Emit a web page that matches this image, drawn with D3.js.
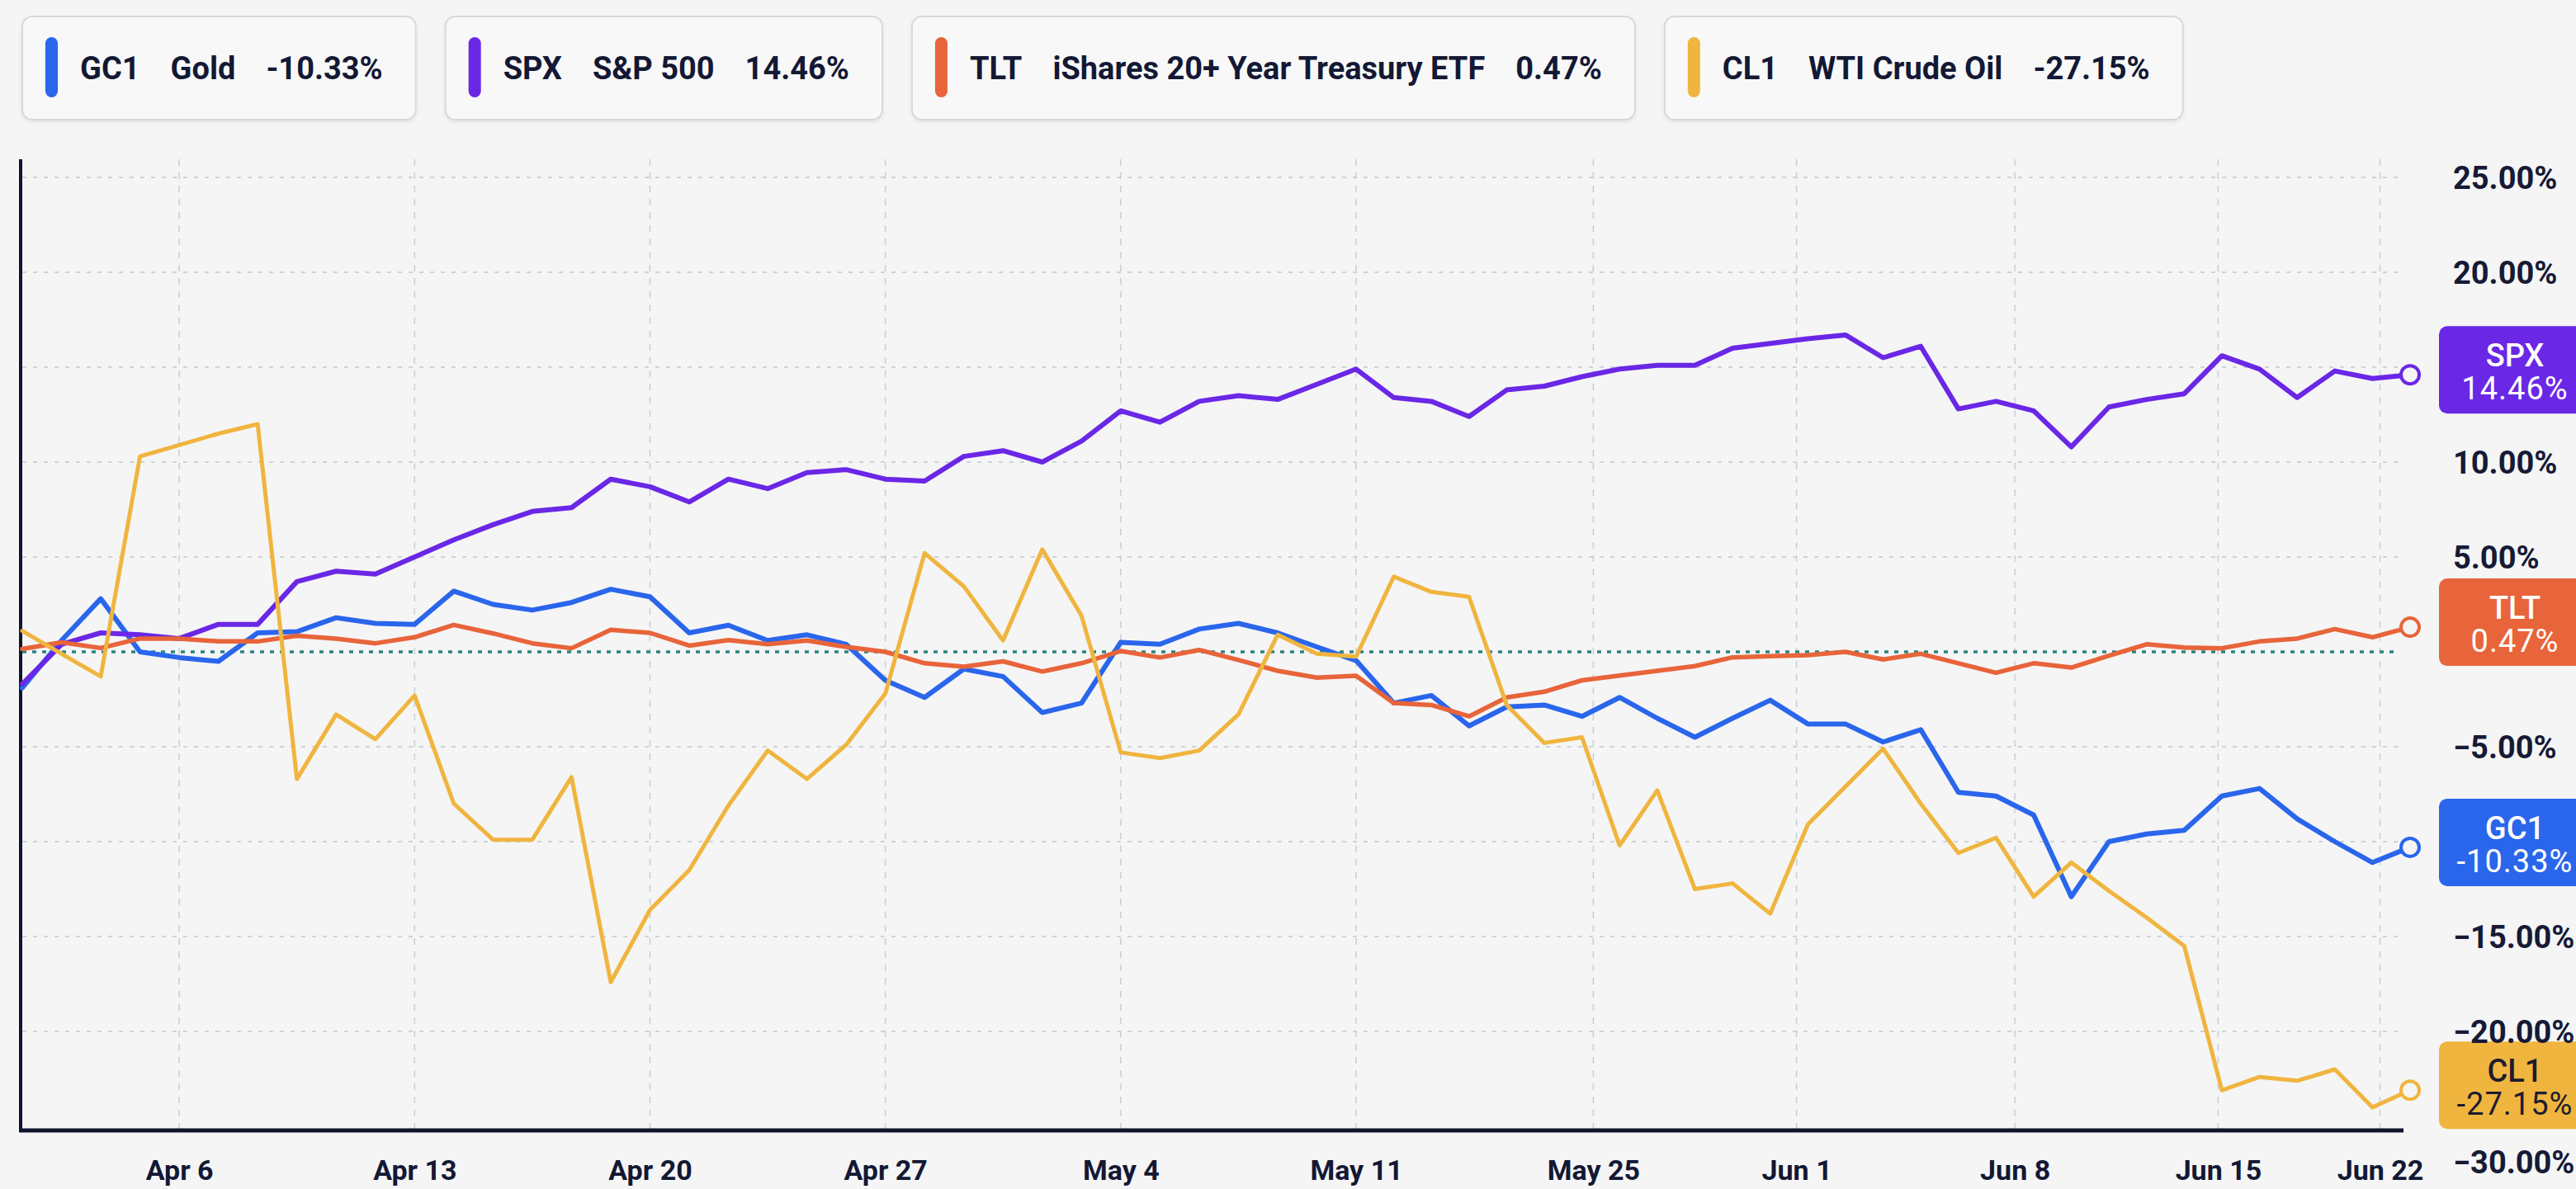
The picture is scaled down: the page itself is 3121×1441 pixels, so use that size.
<!DOCTYPE html>
<html>
<head>
<meta charset="utf-8">
<script src="https://cdn.jsdelivr.net/npm/d3@7"></script>
<style>
    html, body { margin: 0; padding: 0; background: #f5f5f5; }
    svg { display: block; font-family: Roboto, "Noto Sans", sans-serif; }
</style>
</head>
<body>
<svg id="chart"></svg>
<script>
// series meta
const tickers = ["GC1", "SPX", "TLT", "CL1"];
const names = ["Gold", "S&P 500", "iShares 20+ Year Treasury ETF", "WTI Crude Oil"];
const changes = ["-10.33%", "14.46%", "0.47%", "-27.15%"];
const colors = ["#2a66ec", "#6a27e6", "#e8643a", "#f0b53f"];

// % change, one value per session
const gc1 = [-1.9, 0.6, 2.8, 0.0, -0.3, -0.5, 1.0, 1.06, 1.8, 1.5, 1.45, 3.2, 2.5, 2.2, 2.6, 3.3,
    2.9, 1.0, 1.4, 0.6, 0.9, 0.4, -1.5, -2.4, -0.9, -1.3, -3.2, -2.7, 0.5, 0.4, 1.2, 1.5, 1.0, 0.26,
    -0.46, -2.7, -2.3, -3.9, -2.9, -2.8, -3.4, -2.4, -3.5, -4.5, -3.5, -2.55, -3.8, -3.8, -4.75, -4.1,
    -7.4, -7.6, -8.6, -12.9, -10.0, -9.6, -9.4, -7.6, -7.2, -8.8, -10.0, -11.1, -10.3];
const spx = [-1.7, 0.4, 1.0, 0.9, 0.7, 1.45, 1.45, 3.7, 4.25, 4.1, 5.0, 5.9, 6.7, 7.4, 7.6, 9.1,
    8.7, 7.9, 9.1, 8.6, 9.45, 9.6, 9.1, 9.0, 10.3, 10.6, 10.0, 11.1, 12.7, 12.1, 13.2, 13.5, 13.3, 14.1,
    14.9, 13.4, 13.2, 12.4, 13.8, 14.0, 14.5, 14.9, 15.1, 15.1, 16.0, 16.25, 16.5, 16.7, 15.5, 16.1,
    12.8, 13.2, 12.7, 10.8, 12.9, 13.3, 13.6, 15.6, 14.9, 13.4, 14.8, 14.4, 14.6];
const tlt = [0.15, 0.5, 0.2, 0.7, 0.7, 0.55, 0.55, 0.85, 0.7, 0.45, 0.77, 1.42, 0.97, 0.45, 0.19, 1.16,
    1.0, 0.33, 0.62, 0.4, 0.6, 0.26, 0.0, -0.6, -0.78, -0.5, -1.04, -0.6, 0.04, -0.3, 0.1, -0.43, -1.0,
    -1.36, -1.26, -2.7, -2.8, -3.4, -2.4, -2.1, -1.5, -1.25, -1.0, -0.75, -0.29, -0.23, -0.17, 0.0, -0.4,
    -0.1, -0.6, -1.1, -0.6, -0.83, -0.2, 0.4, 0.23, 0.19, 0.55, 0.7, 1.2, 0.77, 1.3];
const cl1 = [1.1, -0.1, -1.3, 10.3, 10.9, 11.5, 12.0, -6.7, -3.3, -4.6, -2.3, -8.0, -9.9, -9.9, -6.6, -17.4,
    -13.6, -11.5, -8.1, -5.2, -6.7, -4.9, -2.2, 5.2, 3.45, 0.6, 5.4, 1.9, -5.3, -5.6, -5.2, -3.3, 0.9,
    -0.1, -0.25, 3.96, 3.16, 2.9, -2.8, -4.8, -4.5, -10.2, -7.3, -12.5, -12.2, -13.8, -9.1, -7.1, -5.1,
    -8.0, -10.6, -9.8, -12.9, -11.1, -12.6, -14.0, -15.5, -23.1, -22.4, -22.6, -22.0, -24.0, -23.1];

// x axis: week labels and the session index they sit on
const xTickLabels = ["Apr 6", "Apr 13", "Apr 20", "Apr 27", "May 4", "May 11", "May 25", "Jun 1", "Jun 8", "Jun 15", "Jun 22"];
const xTickAt = [4, 10, 16, 22, 28, 34, 40.3, 45.7, 51.5, 56.9, 61.2];
const yTicks = [25, 20, 15, 10, 5, 0, -5, -10, -15, -20, -25, -30];

const series = [gc1, spx, tlt, cl1];

const width = 3121, height = 1441;
const plot = {left: 27, right: 2920, top: 193, bottom: 1370};
const navy = "#10152f";
const bg = "#f5f5f5";

const svg = d3.select("#chart")
    .attr("width", width)
    .attr("height", height);

svg.append("rect").attr("width", width).attr("height", height).attr("fill", bg);

const defs = svg.append("defs");
defs.append("filter").attr("id", "shadow")
    .attr("x", "-5%").attr("y", "-10%").attr("width", "110%").attr("height", "130%")
    .append("feDropShadow")
    .attr("dx", 0).attr("dy", 2).attr("stdDeviation", 2)
    .attr("flood-color", "#000").attr("flood-opacity", 0.08);

// sessions are a bit wider before May 11 (index 34) than after it
const n = gc1.length;
const splitIdx = 34, splitFrac = 0.5586;
const x = d3.scaleLinear()
    .domain([0, splitIdx, n - 1])
    .range([plot.left, plot.left + splitFrac * (plot.right - plot.left), plot.right]);

const y = d3.scaleLinear()
    .domain([-25, 25])
    .range([1365, 215]);

//legend boxes
let lx = 27;
tickers.forEach(function (t, k) {
    const g = svg.append("g").attr("transform", "translate(" + lx + ",20)");
    const box = g.append("rect")
        .attr("height", 125)
        .attr("rx", 12)
        .attr("fill", "#f8f8f8")
        .attr("stroke", "#d8d8d8")
        .attr("stroke-width", 2)
        .attr("filter", "url(#shadow)");
    g.append("rect")
        .attr("x", 28).attr("y", 25)
        .attr("width", 15).attr("height", 73)
        .attr("rx", 7.5)
        .attr("fill", colors[k]);
    let tx = 70;
    [t, names[k], changes[k]].forEach(function (s) {
        const txt = g.append("text")
            .attr("x", tx).attr("y", 63)
            .attr("dominant-baseline", "central")
            .attr("font-size", 38)
            .attr("font-weight", 700)
            .attr("fill", "#131834")
            .text(s);
        tx += txt.node().getComputedTextLength() + 37;
    });
    const w = tx - 37 + 40;
    box.attr("width", w);
    lx += w + 36;
});

// grid
const gridG = svg.append("g");
gridG.selectAll(".hgrid")
    .data(yTicks.filter(function (v) { return v !== 0 && v > -25; }))
    .enter().append("line")
    .attr("class", "hgrid")
    .attr("x1", plot.left).attr("x2", plot.right - 13)
    .attr("y1", function (d) { return y(d); })
    .attr("y2", function (d) { return y(d); })
    .attr("stroke", "#cdd3d8")
    .attr("stroke-width", 2)
    .attr("stroke-dasharray", "5,8");

gridG.selectAll(".vgrid")
    .data(xTickAt)
    .enter().append("line")
    .attr("class", "vgrid")
    .attr("x1", function (d) { return x(d); })
    .attr("x2", function (d) { return x(d); })
    .attr("y1", plot.top).attr("y2", plot.bottom)
    .attr("stroke", "#c9d1d6")
    .attr("stroke-width", 1.6)
    .attr("stroke-dasharray", "8,8");

// zero line
svg.append("line")
    .attr("x1", plot.left).attr("x2", plot.right - 13)
    .attr("y1", y(0)).attr("y2", y(0))
    .attr("stroke", "#2b8482")
    .attr("stroke-width", 3.5)
    .attr("stroke-dasharray", "5,7");

// axes lines
svg.append("line")
    .attr("x1", 25).attr("x2", 25)
    .attr("y1", plot.top).attr("y2", plot.bottom + 2)
    .attr("stroke", navy).attr("stroke-width", 4);
svg.append("line")
    .attr("x1", 23).attr("x2", plot.right - 8)
    .attr("y1", plot.bottom).attr("y2", plot.bottom)
    .attr("stroke", navy).attr("stroke-width", 5);

// x axis labels
const xAxis = svg.append("g")
    .attr("transform", "translate(0," + plot.bottom + ")")
    .call(d3.axisBottom(x)
        .tickValues(xTickAt)
        .tickSize(0)
        .tickPadding(36)
        .tickFormat(function (d, i) { return xTickLabels[i]; }));
xAxis.select(".domain").remove();
xAxis.selectAll("text")
    .attr("font-family", "Roboto, 'Noto Sans', sans-serif")
    .attr("font-size", 34)
    .attr("font-weight", 700)
    .attr("fill", "#131834");

// lines
const line = d3.line()
    .x(function (d, i) { return x(i); })
    .y(function (d) { return y(d); })
    .curve(d3.curveLinear);

const widths = [6, 6, 5.5, 5];
series.forEach(function (s, k) {
    svg.append("path")
        .datum(s)
        .attr("fill", "none")
        .attr("stroke", colors[k])
        .attr("stroke-width", widths[k])
        .attr("stroke-linejoin", "round")
        .attr("stroke-linecap", "round")
        .attr("d", line);
});

// end markers
series.forEach(function (s, k) {
    svg.append("circle")
        .attr("cx", x(s.length - 1))
        .attr("cy", y(s[s.length - 1]))
        .attr("r", 11)
        .attr("fill", bg)
        .attr("stroke", colors[k])
        .attr("stroke-width", 4);
});

// value badges on the right
const badgeH = 106;
const badgeCenters = series.map(function (s) { return y(s[s.length - 1]) - 6; });
series.forEach(function (s, k) {
    const cy = badgeCenters[k];
    const g = svg.append("g");
    g.append("rect")
        .attr("x", 2955).attr("y", cy - badgeH / 2)
        .attr("width", 200).attr("height", badgeH)
        .attr("rx", 10)
        .attr("fill", colors[k]);
    const fill = k === 3 ? "#1c1c2e" : "#ffffff";
    g.append("text")
        .attr("x", 3047).attr("y", cy - 17)
        .attr("text-anchor", "middle")
        .attr("dominant-baseline", "central")
        .attr("font-size", 38).attr("font-weight", 500)
        .attr("fill", fill)
        .text(tickers[k]);
    g.append("text")
        .attr("x", 3047).attr("y", cy + 23)
        .attr("text-anchor", "middle")
        .attr("dominant-baseline", "central")
        .attr("font-size", 38).attr("font-weight", 400)
        .attr("letter-spacing", 1)
        .attr("fill", fill)
        .text(changes[k]);
});

// y labels, hidden where a badge sits
const labelRowY = 1408;
yTicks.forEach(function (v) {
    const ty = Math.min(y(v), labelRowY);
    const covered = badgeCenters.some(function (c) { return Math.abs(c - ty) < badgeH / 2 + 4; });
    if (covered) return;
    const txt = (v < 0 ? "\u2212" : "") + Math.abs(v).toFixed(2) + "%";
    svg.append("text")
        .attr("x", 2972).attr("y", ty + 1)
        .attr("dominant-baseline", "central")
        .attr("font-size", 38).attr("font-weight", 700)
        .attr("fill", "#161a35")
        .text(txt);
});
</script>
</body>
</html>
